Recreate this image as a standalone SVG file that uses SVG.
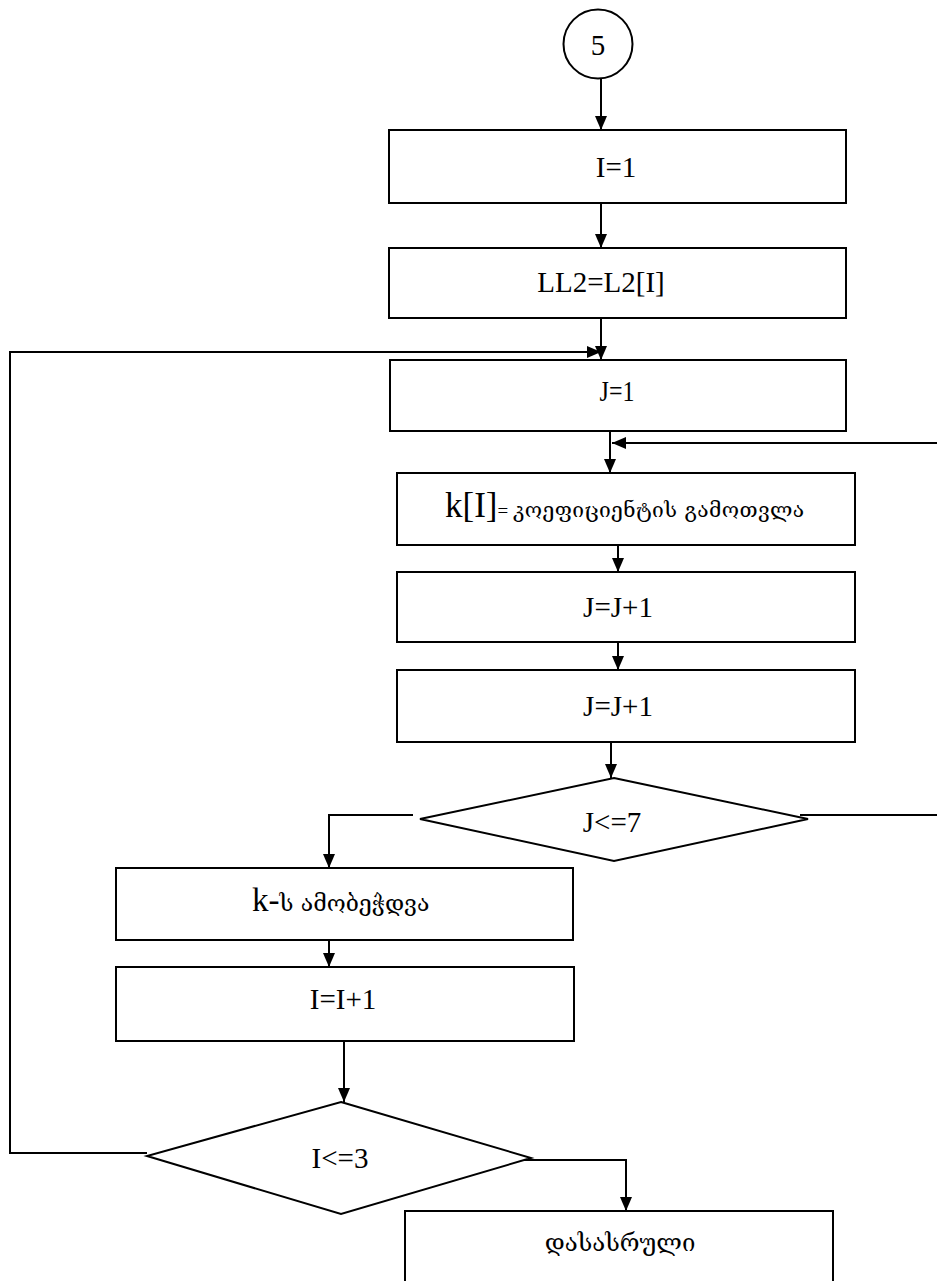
<svg xmlns="http://www.w3.org/2000/svg" width="937" height="1281" viewBox="0 0 937 1281">
<defs>
<style>
.box{fill:#fff;stroke:#000;stroke-width:2}
.ln{fill:none;stroke:#000;stroke-width:2}
.t{font-family:"Liberation Serif","Times New Roman",serif;font-size:29px;fill:#000;text-anchor:middle}
.g{font-family:"DejaVu Serif","DejaVu Sans",serif;font-size:21px;fill:#000}
</style>
<marker id="ah" markerUnits="userSpaceOnUse" markerWidth="14" markerHeight="14" viewBox="0 0 14 14" refX="14" refY="7" orient="auto">
<path d="M0,1 L14,7 L0,13 Z" fill="#000"/>
</marker>
</defs>
<g id="connectors">
<path class="ln" d="M601 78 V130" marker-end="url(#ah)"/>
<path class="ln" d="M601 203 V248" marker-end="url(#ah)"/>
<path class="ln" d="M601 316 V360" marker-end="url(#ah)"/>
<path class="ln" d="M147 1153 H10 V352 H601" marker-end="url(#ah)"/>
<path class="ln" d="M610 428 V473" marker-end="url(#ah)"/>
<path class="ln" d="M800 815 H940 V443 H612" marker-end="url(#ah)"/>
<path class="ln" d="M618 542 V572" marker-end="url(#ah)"/>
<path class="ln" d="M618 640 V670" marker-end="url(#ah)"/>
<path class="ln" d="M611 742 V778" marker-end="url(#ah)"/>
<path class="ln" d="M413 815 H329 V868" marker-end="url(#ah)"/>
<path class="ln" d="M329 937 V967" marker-end="url(#ah)"/>
<path class="ln" d="M344 1038 V1102" marker-end="url(#ah)"/>
<path class="ln" d="M524 1160 H626 V1211" marker-end="url(#ah)"/>
</g>
<g id="start">
<circle cx="598" cy="44" r="34.5" class="box"/>
<text class="t" x="598" y="55">5</text>
</g>
<g id="i1">
<rect class="box" x="389" y="130" width="457" height="73"/>
<text class="t" x="616" y="177">I=1</text>
</g>
<g id="ll2">
<rect class="box" x="389" y="248" width="457" height="70"/>
<text class="t" x="601" y="292">LL2=L2[I]</text>
</g>
<g id="j1">
<rect class="box" x="390" y="360" width="456" height="71"/>
<text class="t" x="617" y="401" style="font-size:30px" transform="translate(617 0) scale(0.8 1) translate(-617 0)">J=1</text>
</g>
<g id="kcalc">
<rect class="box" x="397" y="473" width="458" height="72"/>
<text x="445" y="517"><tspan class="t" style="text-anchor:start;font-size:35px">k[I]</tspan><tspan class="t" style="text-anchor:start;font-size:19px">= </tspan><tspan class="g" style="letter-spacing:0.4px">კოეფიციენტის  გამოთვლა</tspan></text>
</g>
<g id="jinc1">
<rect class="box" x="397" y="572" width="458" height="70"/>
<text class="t" x="618" y="617">J=J+1</text>
</g>
<g id="jinc2">
<rect class="box" x="397" y="670" width="458" height="72"/>
<text class="t" x="618" y="716">J=J+1</text>
</g>
<g id="jcond">
<polygon class="box" points="614,778 808,819 614,861 420,819"/>
<text class="t" x="612" y="832">J&lt;=7</text>
</g>
<g id="kprint">
<rect class="box" x="116" y="868" width="457" height="72"/>
<text x="252" y="911"><tspan class="t" style="text-anchor:start;font-size:33px">k-</tspan><tspan class="g" style="font-size:23px">ს  ამობეჭდვა</tspan></text>
</g>
<g id="iinc">
<rect class="box" x="116" y="967" width="458" height="74"/>
<text class="t" x="343" y="1009">I=I+1</text>
</g>
<g id="icond">
<polygon class="box" points="341,1102 531,1158 341,1214 147,1156"/>
<text class="t" x="340" y="1168">I&lt;=3</text>
</g>
<g id="end">
<rect class="box" x="405" y="1211" width="428" height="90"/>
<text class="g" x="620" y="1251" style="text-anchor:middle;font-size:24px">დასასრული</text>
</g>
</svg>
